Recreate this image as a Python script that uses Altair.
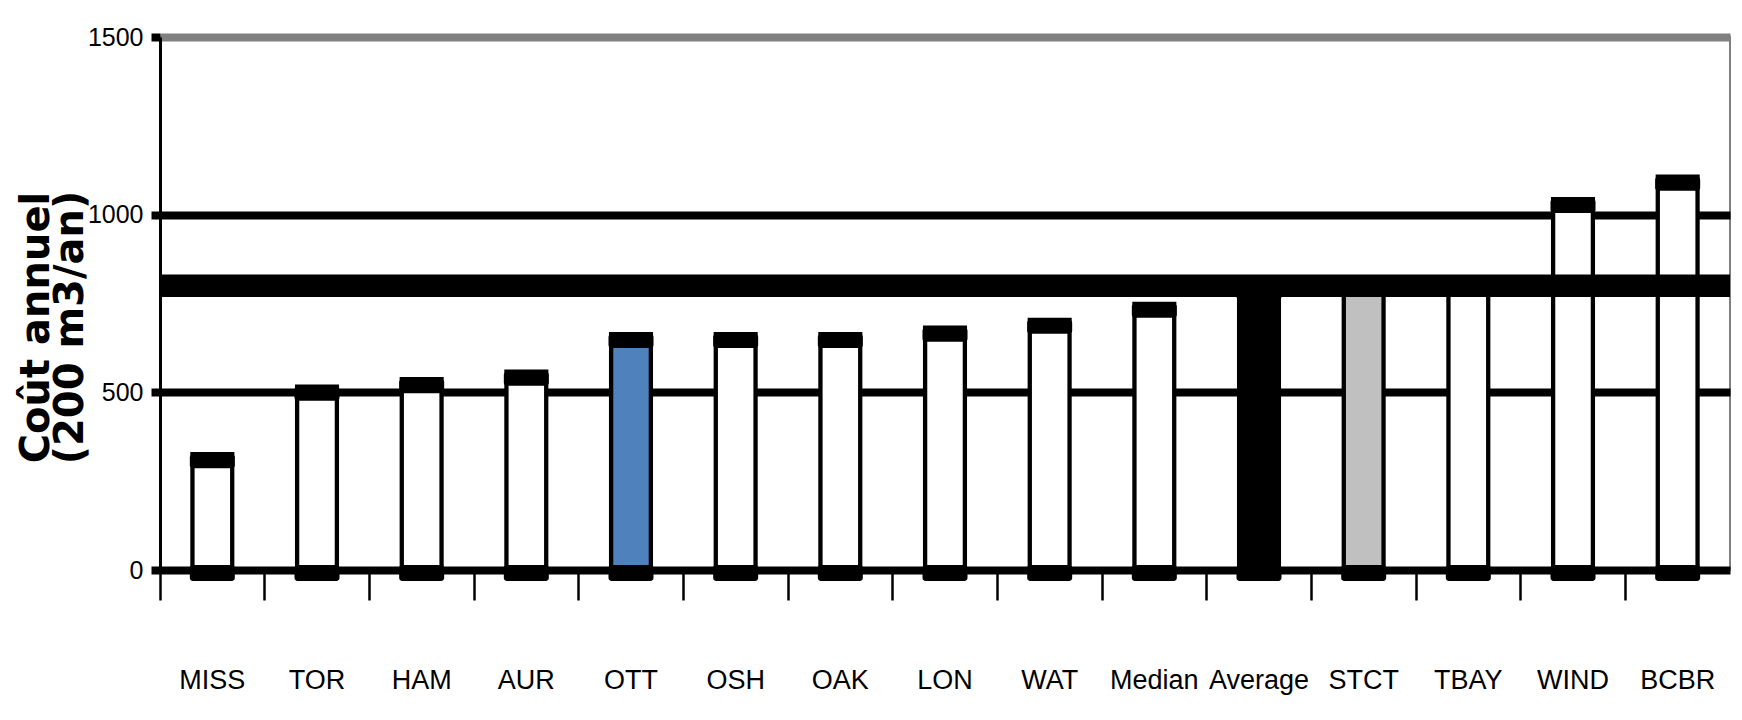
import altair as alt
import pandas as pd

categories = ["MISS", "TOR", "HAM", "AUR", "OTT", "OSH", "OAK", "LON", "WAT",
              "Median", "Average", "STCT", "TBAY", "WIND", "BCBR"]
values = [326, 516, 537, 558, 664, 664, 664, 682, 704, 749, 800, 810, 810, 1044, 1107]
fills = ["white", "white", "white", "white", "#4F81BD", "white", "white", "white",
         "white", "white", "black", "#C0C0C0", "white", "white", "white"]
average_level = [800]
y_ticks = [0, 500, 1000, 1500]

df = pd.DataFrame({"cat": categories, "value": values, "fill": fills,
                   "zero": [0] * len(categories)})
avg_df = pd.DataFrame({"avg": average_level})

LAB_FONT = "Liberation Sans Narrow, Liberation Sans, Arial, sans-serif"

x_enc = alt.X(
    "cat:N", sort=categories,
    scale=alt.Scale(paddingInner=0, paddingOuter=0),
    axis=alt.Axis(title=None, labelAngle=0, bandPosition=0, tickSize=30,
                  tickWidth=2.5, tickColor="black", labelFont=LAB_FONT,
                  labelFontSize=27, labelColor="black", labelPadding=80,
                  labelBaseline="middle", domain=False, grid=False),
)
y_scale = alt.Scale(domain=[0, 1500], nice=False, zero=True)
y_axis = alt.Axis(
    values=y_ticks, format="d", title=["Coût annuel", "(200 m3/an)"],
    titleFont="DejaVu Sans", titleFontWeight="bold", titleFontSize=40,
    titleLineHeight=34, titleColor="black", titleAngle=270,
    titleX=-144, titleY=290, titleBaseline="top", titleAlign="center",
    labelFont=LAB_FONT, labelFontSize=25, labelColor="black", labelPadding=8,
    tickSize=9, tickWidth=8, tickColor="black",
    domain=True, domainColor="black", domainWidth=3,
    grid=True, gridWidth=8,
    gridColor=alt.condition("datum.value === 1500", alt.value("#808080"), alt.value("black")),
)

bars = alt.Chart(df).mark_bar(
    width=alt.RelativeBandSize(0.38), stroke="black", strokeWidth=4.3
).encode(
    x=x_enc,
    y=alt.Y("value:Q", scale=y_scale, axis=y_axis),
    fill=alt.Fill("fill:N", scale=None),
)

caps = alt.Chart(df).mark_tick(
    thickness=14, size=45, color="black", opacity=1, yOffset=7, cornerRadius=3
).encode(
    x=alt.X("cat:N", sort=categories),
    y=alt.Y("value:Q"),
)

bottoms = alt.Chart(df).mark_tick(
    thickness=16, size=45, color="black", opacity=1, yOffset=3, cornerRadius=3
).encode(
    x=alt.X("cat:N", sort=categories),
    y=alt.Y("zero:Q"),
)

avg_line = alt.Chart(avg_df).mark_rule(color="black", strokeWidth=22.7).encode(
    y=alt.Y("avg:Q")
)

chart = alt.layer(bars, caps, bottoms, avg_line).properties(
    width=1570, height=533,
    autosize=alt.AutoSizeParams(type="none"),
    padding={"left": 152, "top": 29, "right": 2, "bottom": 140},
    background="white",
).configure_view(stroke="#808080", strokeWidth=2)

chart.save("out.html", embed_options={"renderer": "svg", "actions": False})
